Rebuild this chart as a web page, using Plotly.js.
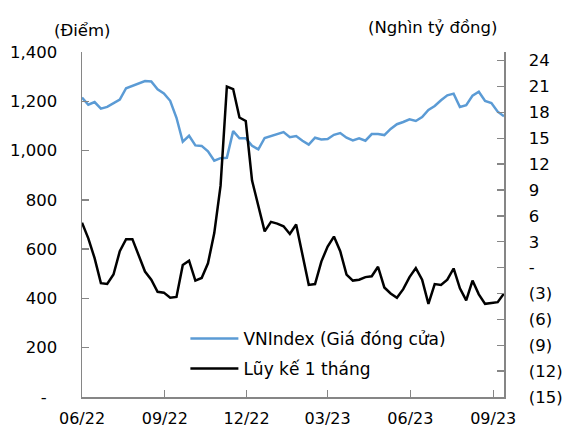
<!DOCTYPE html>
<html>
<head>
<meta charset="utf-8">
<script src="https://cdn.plot.ly/plotly-3.0.1.min.js"></script>
<style>html,body{margin:0;padding:0;background:#fff;}#chart{width:564px;height:428px;}</style>
</head>
<body>
<div id="chart"></div>
<script>
const dates = [
 "2022-06-01","2022-06-08","2022-06-15","2022-06-22","2022-06-29",
 "2022-07-06","2022-07-13","2022-07-20","2022-07-27",
 "2022-08-03","2022-08-10","2022-08-17","2022-08-24","2022-08-31",
 "2022-09-07","2022-09-14","2022-09-21","2022-09-28",
 "2022-10-05","2022-10-12","2022-10-19","2022-10-26",
 "2022-11-02","2022-11-09","2022-11-16","2022-11-23","2022-11-30",
 "2022-12-07","2022-12-14","2022-12-21","2022-12-28",
 "2023-01-04","2023-01-11","2023-01-18","2023-01-25",
 "2023-02-01","2023-02-08","2023-02-15","2023-02-22",
 "2023-03-01","2023-03-08","2023-03-15","2023-03-22","2023-03-29",
 "2023-04-05","2023-04-12","2023-04-19","2023-04-26",
 "2023-05-03","2023-05-10","2023-05-17","2023-05-24","2023-05-31",
 "2023-06-07","2023-06-14","2023-06-21","2023-06-28",
 "2023-07-05","2023-07-12","2023-07-19","2023-07-26",
 "2023-08-02","2023-08-09","2023-08-16","2023-08-23","2023-08-30",
 "2023-09-06","2023-09-13"
];
const vnindex = [
 1215,1186,1197,1170,1177,1193,1207,1253,1262,1270,
 1282,1280,1249,1232,1202,1133,1036,1060,1021,1019,
 997,959,969,971,1079,1050,1050,1019,1005,1051,
 1059,1067,1075,1054,1059,1040,1024,1052,1045,1047,
 1064,1071,1052,1041,1050,1040,1067,1067,1063,1088,
 1107,1116,1127,1120,1136,1165,1181,1204,1224,1231,
 1177,1184,1223,1239,1201,1193,1158,1139
];
const luyKe = [
 5.2,3.4,1.1,-1.8,-1.9,-0.8,1.9,3.3,3.3,1.5,
 -0.45,-1.4,-2.8,-2.9,-3.5,-3.4,0.3,0.8,-1.5,-1.2,
 0.5,4.0,9.5,21.0,20.7,17.4,17.0,10.1,7.3,4.2,
 5.3,5.1,4.8,3.9,5.0,1.3,-2.0,-1.9,0.7,2.45,
 3.6,1.9,-0.8,-1.5,-1.4,-1.1,-1.0,0.1,-2.3,-3.0,
 -3.5,-2.5,-1.1,-0.05,-1.4,-4.2,-1.9,-2.0,-1.4,-0.1,
 -2.4,-3.8,-1.5,-3.1,-4.2,-4.1,-4.0,-3.0
];
const leftTickVals = [0,200,400,600,800,1000,1200,1400];
const leftTickText = ["-\u00a0\u00a0","200","400","600","800","1,000","1,200","1,400"];
const rightTickVals = [-15,-12,-9,-6,-3,0,3,6,9,12,15,18,21,24];
const rightTickText = ["(15)","(12)","(9)","(6)","(3)","-","3","6","9","12","15","18","21","24"];
const seriesNames = ["VNIndex (Giá đóng cửa)","Lũy kế 1 tháng"];
const leftTitle = "(Điểm)";
const rightTitle = "(Nghìn tỷ đồng)";

const FONT = "DejaVu Sans, Verdana, sans-serif";
const axisColor = "#868686";
const TICKSIZE = 16.5;

const traces = [
 {x: dates, y: vnindex, name: seriesNames[0], type: "scatter", mode: "lines",
  line: {color: "#5B9BD5", width: 2.5}, yaxis: "y", legend: "legend"},
 {x: dates, y: luyKe, name: seriesNames[1], type: "scatter", mode: "lines",
  line: {color: "#000000", width: 2.5}, yaxis: "y2", legend: "legend2"}
];

const layout = {
 width: 564, height: 428,
 margin: {l: 82, r: 60, t: 52, b: 31},
 paper_bgcolor: "#fff", plot_bgcolor: "#fff",
 font: {family: FONT, size: TICKSIZE, color: "#000"},
 showlegend: true,
 xaxis: {
  type: "date", range: ["2022-06-01", "2023-09-13"],
  tick0: "2022-06-01", dtick: "M3", tickformat: "%m/%y",
  ticks: "inside", ticklen: 7, tickcolor: axisColor, tickwidth: 1.3,
  showline: true, linecolor: axisColor, linewidth: 1.5,
  showgrid: false, zeroline: false, ticklabelstandoff: 6,
  tickfont: {family: FONT, size: 16, color: "#000"}
 },
 yaxis: {
  range: [0, 1400], tickvals: leftTickVals, ticktext: leftTickText,
  ticks: "inside", ticklen: 7, tickcolor: axisColor, tickwidth: 1.3,
  showline: true, linecolor: axisColor, linewidth: 1.5,
  showgrid: false, zeroline: false, ticklabelstandoff: 20,
  tickfont: {family: FONT, size: TICKSIZE, color: "#000"}
 },
 yaxis2: {
  range: [-15, 25], overlaying: "y", side: "right",
  tickvals: rightTickVals, ticktext: rightTickText,
  ticks: "inside", ticklen: 7, tickcolor: axisColor, tickwidth: 1.3,
  showline: true, linecolor: axisColor, linewidth: 1.5,
  showgrid: false, zeroline: false, ticklabelstandoff: 20,
  tickfont: {family: FONT, size: TICKSIZE, color: "#000"}
 },
 legend: {x: 0.245, y: 0.168, xanchor: "left", yanchor: "middle",
  bgcolor: "rgba(0,0,0,0)", font: {family: FONT, size: 17, color: "#000"}, itemwidth: 48},
 legend2: {x: 0.245, y: 0.081, xanchor: "left", yanchor: "middle",
  bgcolor: "rgba(0,0,0,0)", font: {family: FONT, size: 17, color: "#000"}, itemwidth: 48},
 annotations: [
  {text: leftTitle, xref: "paper", yref: "paper", x: -0.072, y: 1.063,
   xanchor: "left", yanchor: "middle", showarrow: false, font: {family: FONT, size: 16.5, color: "#000"}},
  {text: rightTitle, xref: "paper", yref: "paper", x: 0.988, y: 1.07,
   xanchor: "right", yanchor: "middle", showarrow: false, font: {family: FONT, size: 16.5, color: "#000"}}
 ]
};

Plotly.newPlot("chart", traces, layout, {displayModeBar: false, staticPlot: true});
</script>
</body>
</html>
